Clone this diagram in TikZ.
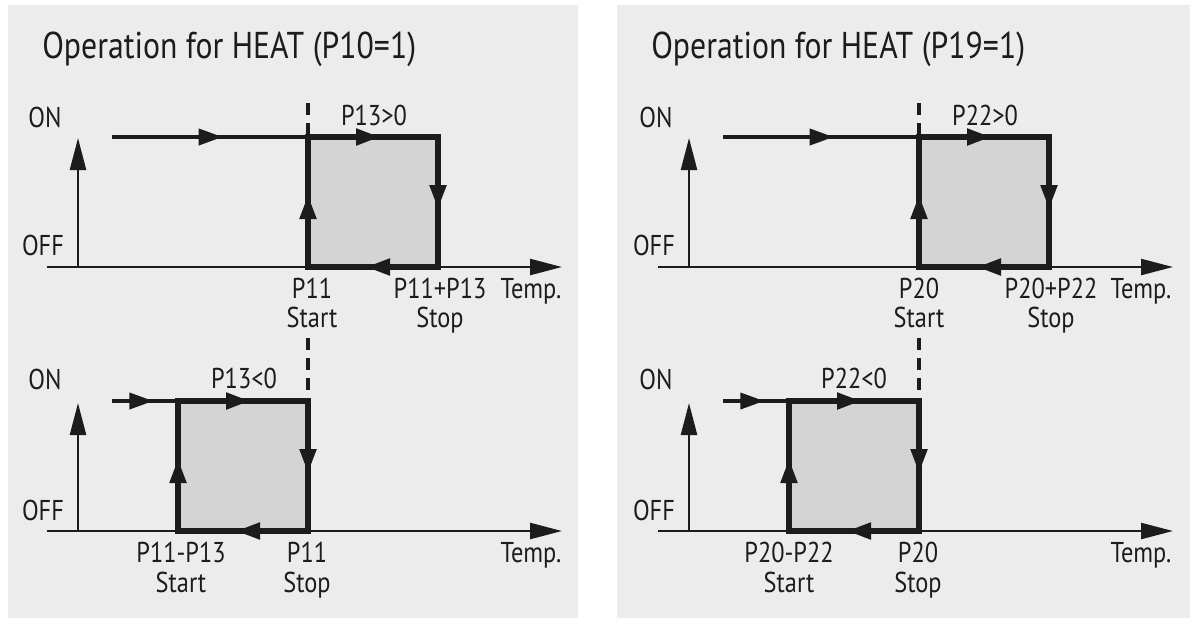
\documentclass[tikz,border=0pt]{standalone}
\usepackage{fontspec}
\setmainfont[FakeStretch=0.85]{PT Sans}
\usetikzlibrary{arrows.meta,decorations.markings}
\definecolor{panelgray}{HTML}{ECECEC}
\definecolor{boxgray}{HTML}{D4D4D4}
\definecolor{ink}{HTML}{1C1C1C}

\begin{document}
\begin{tikzpicture}[x=0.75pt,y=-0.75pt,color=ink,
				>={Triangle[length=18pt,width=12pt]},
				panel/.style={fill=panelgray},
				heading/.style={font=\fontsize{28}{32}\selectfont, anchor=base west, inner sep=0pt},
				lbl/.style={font=\fontsize{21.5}{24}\selectfont, anchor=base, inner sep=0pt},
				axis/.style={line width=1.8pt, -{Triangle[length=24pt,width=12pt]}},
				online/.style={line width=2.8pt, decoration={markings, mark=at position #1 with {\arrow{>}}}, postaction={decorate}},
				hyst/.style={draw, fill=boxgray, line width=3.8pt, decoration={markings,
					mark=at position 54pt with {\arrow{>}},
					mark=at position 151.5pt with {\arrow{>}},
					mark=at position 249pt with {\arrow{>}},
					mark=at position 346.5pt with {\arrow{>}}}, postaction={decorate}},
				guide/.style={line width=3pt, dash pattern=on 9pt off 6pt}]
	\useasboundingbox (0,0) rectangle (1195,633);
	\fill[white] (0,0) rectangle (1195,633);
	\fill[panel] (8,5) rectangle (578,618);
	\fill[panel] (617,5) rectangle (1190,618);
	\node[heading] (ttl1) at (42,58) {Operation for HEAT (P10=1)};
	\node[heading] (ttl2) at (651,58) {Operation for HEAT (P19=1)};
	% left panel, upper chart
	\coordinate (h1a) at (47,267);
	\coordinate (h1b) at (562,267);
	\coordinate (v1a) at (78,267);
	\coordinate (v1b) at (78,138);
	\coordinate (on1) at (112,137);
	\coordinate (b1a) at (308,267);
	\coordinate (b1b) at (308,137);
	\coordinate (b1c) at (438,137);
	\coordinate (b1d) at (438,267);
	\coordinate (d1) at (308,103);
	\draw[axis] (h1a) -- (h1b);
	\draw[axis] (v1a) -- (v1b);
	\draw[online=83pt] (on1) -- (b1b);
	\draw[hyst] (b1a) -- (b1b) -- (b1c) -- (b1d) -- cycle;
	\draw[guide] (d1) -- (b1b);
	\node[lbl] (lon1) at (45,127) {ON};
	\node[lbl] (loff1) at (43,255) {OFF};
	\node[lbl] (lpar1) at (374,125) {P13>0};
	\node[lbl] (lst1) at (312,298) {P11};
	\node[lbl] (lst1b) at (312,327) {Start};
	\node[lbl] (lsp1) at (440,298) {P11+P13};
	\node[lbl] (lsp1b) at (440,327) {Stop};
	\node[lbl] (ltmp1) at (531,298) {Temp.};
	% left panel, lower chart
	\coordinate (h2a) at (47,531);
	\coordinate (h2b) at (562,531);
	\coordinate (v2a) at (78,531);
	\coordinate (v2b) at (78,403);
	\coordinate (on2) at (112,401);
	\coordinate (b2a) at (178,531);
	\coordinate (b2b) at (178,401);
	\coordinate (b2c) at (308,401);
	\coordinate (b2d) at (308,531);
	\coordinate (d2) at (308,338);
	\draw[axis] (h2a) -- (h2b);
	\draw[axis] (v2a) -- (v2b);
	\draw[online=31pt] (on2) -- (b2b);
	\draw[hyst] (b2a) -- (b2b) -- (b2c) -- (b2d) -- cycle;
	\draw[guide] (d2) -- (b2c);
	\node[lbl] (lon2) at (45,389) {ON};
	\node[lbl] (loff2) at (43,520) {OFF};
	\node[lbl] (lpar2) at (244,388) {P13<0};
	\node[lbl] (lst2) at (181,562) {P11-P13};
	\node[lbl] (lst2b) at (181,592) {Start};
	\node[lbl] (lsp2) at (307,562) {P11};
	\node[lbl] (lsp2b) at (307,592) {Stop};
	\node[lbl] (ltmp2) at (531,562) {Temp.};
	% right panel, upper chart
	\coordinate (h3a) at (658,267);
	\coordinate (h3b) at (1173,267);
	\coordinate (v3a) at (689,267);
	\coordinate (v3b) at (689,138);
	\coordinate (on3) at (723,137);
	\coordinate (b3a) at (919,267);
	\coordinate (b3b) at (919,137);
	\coordinate (b3c) at (1049,137);
	\coordinate (b3d) at (1049,267);
	\coordinate (d3) at (919,103);
	\draw[axis] (h3a) -- (h3b);
	\draw[axis] (v3a) -- (v3b);
	\draw[online=83pt] (on3) -- (b3b);
	\draw[hyst] (b3a) -- (b3b) -- (b3c) -- (b3d) -- cycle;
	\draw[guide] (d3) -- (b3b);
	\node[lbl] (lon3) at (656,127) {ON};
	\node[lbl] (loff3) at (654,255) {OFF};
	\node[lbl] (lpar3) at (985,125) {P22>0};
	\node[lbl] (lst3) at (919,298) {P20};
	\node[lbl] (lst3b) at (919,327) {Start};
	\node[lbl] (lsp3) at (1051,298) {P20+P22};
	\node[lbl] (lsp3b) at (1051,327) {Stop};
	\node[lbl] (ltmp3) at (1141,298) {Temp.};
	% right panel, lower chart
	\coordinate (h4a) at (658,531);
	\coordinate (h4b) at (1173,531);
	\coordinate (v4a) at (689,531);
	\coordinate (v4b) at (689,403);
	\coordinate (on4) at (723,401);
	\coordinate (b4a) at (789,531);
	\coordinate (b4b) at (789,401);
	\coordinate (b4c) at (919,401);
	\coordinate (b4d) at (919,531);
	\coordinate (d4) at (919,338);
	\draw[axis] (h4a) -- (h4b);
	\draw[axis] (v4a) -- (v4b);
	\draw[online=31pt] (on4) -- (b4b);
	\draw[hyst] (b4a) -- (b4b) -- (b4c) -- (b4d) -- cycle;
	\draw[guide] (d4) -- (b4c);
	\node[lbl] (lon4) at (656,389) {ON};
	\node[lbl] (loff4) at (654,520) {OFF};
	\node[lbl] (lpar4) at (854,388) {P22<0};
	\node[lbl] (lst4) at (789,562) {P20-P22};
	\node[lbl] (lst4b) at (789,592) {Start};
	\node[lbl] (lsp4) at (918,562) {P20};
	\node[lbl] (lsp4b) at (918,592) {Stop};
	\node[lbl] (ltmp4) at (1141,562) {Temp.};
\end{tikzpicture}
\end{document}
